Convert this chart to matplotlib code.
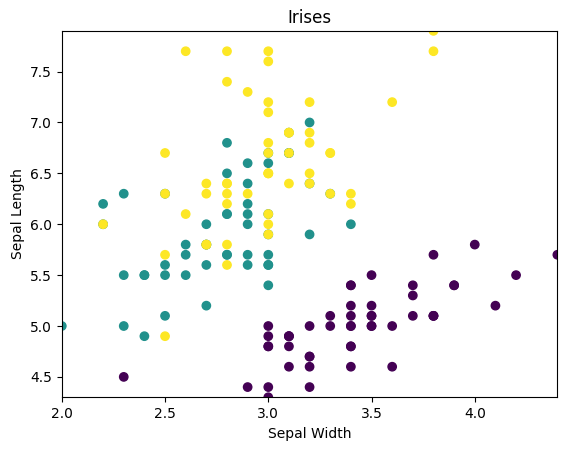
import matplotlib
matplotlib.use("Agg")
import matplotlib.pyplot as plt
import numpy as np

setosa = [(5.1,3.5),(4.9,3.0),(4.7,3.2),(4.6,3.1),(5.0,3.6),(5.4,3.9),(4.6,3.4),(5.0,3.4),(4.4,2.9),(4.9,3.1),(5.4,3.7),(4.8,3.4),(4.8,3.0),(4.3,3.0),(5.8,4.0),(5.7,4.4),(5.4,3.9),(5.1,3.5),(5.7,3.8),(5.1,3.8),(5.4,3.4),(5.1,3.7),(4.6,3.6),(5.1,3.3),(4.8,3.4),(5.0,3.0),(5.0,3.4),(5.2,3.5),(5.2,3.4),(4.7,3.2),(4.8,3.1),(5.4,3.4),(5.2,4.1),(5.5,4.2),(4.9,3.1),(5.0,3.2),(5.5,3.5),(4.9,3.1),(4.4,3.0),(5.1,3.4),(5.0,3.5),(4.5,2.3),(4.4,3.2),(5.0,3.5),(5.1,3.8),(4.8,3.0),(5.1,3.8),(4.6,3.2),(5.3,3.7),(5.0,3.3)]
versicolor = [(7.0,3.2),(6.4,3.2),(6.9,3.1),(5.5,2.3),(6.5,2.8),(5.7,2.8),(6.3,3.3),(4.9,2.4),(6.6,2.9),(5.2,2.7),(5.0,2.0),(5.9,3.0),(6.0,2.2),(6.1,2.9),(5.6,2.9),(6.7,3.1),(5.6,3.0),(5.8,2.7),(6.2,2.2),(5.6,2.5),(5.9,3.2),(6.1,2.8),(6.3,2.5),(6.1,2.8),(6.4,2.9),(6.6,3.0),(6.8,2.8),(6.7,3.0),(6.0,2.9),(5.7,2.6),(5.5,2.4),(5.5,2.4),(5.8,2.7),(6.0,2.7),(5.4,3.0),(6.0,3.4),(6.7,3.1),(6.3,2.3),(5.6,3.0),(5.5,2.5),(5.5,2.6),(6.1,3.0),(5.8,2.6),(5.0,2.3),(5.6,2.7),(5.7,3.0),(5.7,2.9),(6.2,2.9),(5.1,2.5),(5.7,2.8)]
virginica = [(6.3,3.3),(5.8,2.7),(7.1,3.0),(6.3,2.9),(6.5,3.0),(7.6,3.0),(4.9,2.5),(7.3,2.9),(6.7,2.5),(7.2,3.6),(6.5,3.2),(6.4,2.7),(6.8,3.0),(5.7,2.5),(5.8,2.8),(6.4,3.2),(6.5,3.0),(7.7,3.8),(7.7,2.6),(6.0,2.2),(6.9,3.2),(5.6,2.8),(7.7,2.8),(6.3,2.7),(6.7,3.3),(7.2,3.2),(6.2,2.8),(6.1,3.0),(6.4,2.8),(7.2,3.0),(7.4,2.8),(7.9,3.8),(6.4,2.8),(6.3,2.8),(6.1,2.6),(7.7,3.0),(6.3,3.4),(6.4,3.1),(6.0,3.0),(6.9,3.1),(6.7,3.1),(6.9,3.1),(5.8,2.7),(6.8,3.2),(6.7,3.3),(6.7,3.0),(6.3,2.5),(6.5,3.0),(6.2,3.4),(5.9,3.0)]

data = setosa + versicolor + virginica
sepal_length = np.array([d[0] for d in data])
sepal_width = np.array([d[1] for d in data])
species = np.array([0]*50 + [1]*50 + [2]*50)

fig, ax = plt.subplots(figsize=(5.67, 4.54), dpi=100)
fig.subplots_adjust(left=0.109, right=0.983, top=0.932, bottom=0.125)
ax.scatter(sepal_width, sepal_length, c=species, cmap="viridis")
ax.set_xlim(sepal_width.min(), sepal_width.max())
ax.set_ylim(sepal_length.min(), sepal_length.max())
ax.set_xlabel("Sepal Width")
ax.set_ylabel("Sepal Length")
ax.set_title("Irises")
fig.savefig("out.png")
